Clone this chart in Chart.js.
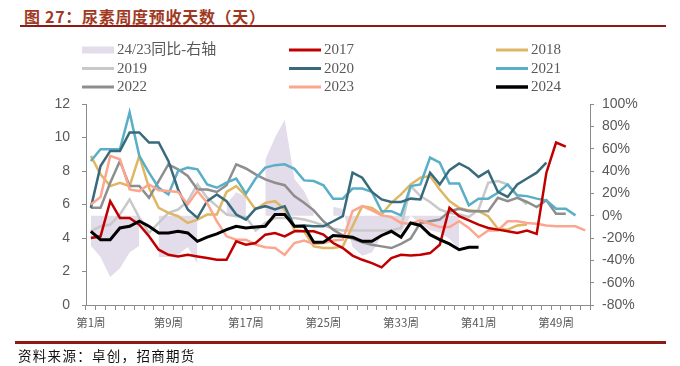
<!DOCTYPE html>
<html><head><meta charset="utf-8">
<script src="https://cdn.jsdelivr.net/npm/chart.js@4.4.1/dist/chart.umd.min.js"></script>
<style>
html,body{margin:0;padding:0;background:#fff;width:680px;height:366px;overflow:hidden;}
#title{position:absolute;left:24px;top:4px;font-family:"Noto Sans CJK SC",sans-serif;font-weight:bold;font-size:16px;letter-spacing:0.7px;color:#A0391F;white-space:nowrap;}
#topline{position:absolute;left:20px;top:25px;width:646px;height:2px;background:#8E1A16;}
#botline{position:absolute;left:15px;top:341px;width:651px;height:3px;background:#8E1A16;}
#source{position:absolute;left:18px;top:345px;font-family:"Noto Sans CJK SC",sans-serif;font-size:13.5px;letter-spacing:1.3px;color:#111;white-space:nowrap;}
#c{position:absolute;left:0;top:0;}
</style></head>
<body>
<div id="title">图 27：尿素周度预收天数（天）</div>
<div id="topline"></div>
<canvas id="c" width="680" height="366"></canvas>
<div id="botline"></div>
<div id="source">资料来源：卓创，招商期货</div>
<script>
const weeks = ["第1周","第2周","第3周","第4周","第5周","第6周","第7周","第8周","第9周","第10周",
"第11周","第12周","第13周","第14周","第15周","第16周","第17周","第18周","第19周","第20周",
"第21周","第22周","第23周","第24周","第25周","第26周","第27周","第28周","第29周","第30周",
"第31周","第32周","第33周","第34周","第35周","第36周","第37周","第38周","第39周","第40周",
"第41周","第42周","第43周","第44周","第45周","第46周","第47周","第48周","第49周","第50周",
"第51周","第52周"];

const yoy2423 = [-27,-37,-55,-47,-33,-27,null,-37,-37,-35,
 -28,-43,null,null,10,21,17,null,50,70,
 86,33,22,4,null,8,6,-28,-36,-33,
 -18,-14,-16,0,-7,-13,-15,-21,-30,null,
 null,null,null,null,null,null,null,null,null,null,null,null];

const s2017 = [4.0,4.1,6.2,5.2,5.2,4.8,4.1,3.3,3.0,2.9,
 3.0,2.9,2.8,2.7,2.7,3.8,3.6,3.7,4.2,4.3,
 4.1,4.4,4.4,4.4,4.2,3.7,3.4,2.95,2.7,2.5,
 2.25,2.8,3.0,2.95,3.0,3.1,3.6,5.8,5.3,5.05,
 4.8,4.6,4.5,4.4,4.3,4.45,4.25,7.9,9.7,9.45,null,null];

const s2018 = [8.9,7.8,7.1,7.3,7.1,8.9,7.0,5.8,5.5,5.3,
 4.9,5.1,5.4,5.4,6.75,7.1,6.5,5.7,6.1,6.2,
 5.7,4.5,4.4,3.5,3.4,3.4,3.5,4.7,5.9,5.8,
 5.4,6.1,6.6,7.2,7.6,7.7,6.9,6.2,5.8,5.65,
 5.6,5.3,4.55,4.5,4.75,4.8,null,null,null,null,null,null];

const s2019 = [4.4,4.7,4.8,5.4,6.3,5.2,4.3,4.9,5.5,5.7,
 6.2,7.2,6.4,5.9,5.4,5.3,5.25,4.45,4.9,5.2,
 5.2,5.2,5.1,4.95,4.75,4.55,4.45,4.45,4.45,4.45,
 4.45,4.45,4.6,7.1,6.5,6.15,5.7,5.5,5.4,5.25,
 5.7,7.3,7.4,7.2,6.5,6.0,null,null,null,null,null,null];

const s2020 = [5.8,8.3,9.2,9.2,10.3,10.3,9.7,9.7,8.6,6.9,
 5.7,5.2,6.2,6.6,6.2,5.4,5.1,5.75,5.9,5.7,
 5.9,4.7,4.75,4.7,4.7,5.0,5.3,7.9,7.6,6.75,
 6.3,6.15,6.15,6.35,6.3,7.9,7.2,8.05,8.45,8.15,
 7.65,8.0,6.75,6.45,7.2,7.55,7.9,8.5,null,null,null,null];

const s2021 = [8.6,9.3,9.3,9.3,11.5,8.9,7.9,7.0,6.6,8.0,
 8.2,8.1,7.2,7.0,7.3,7.55,6.65,7.55,8.2,8.35,
 8.4,8.13,7.44,7.4,7.15,6.35,6.35,6.95,6.95,6.75,
 5.6,5.6,5.35,7.1,7.2,8.8,8.5,7.25,7.25,5.95,
 6.35,6.35,6.7,7.2,6.55,6.5,6.35,6.25,5.75,5.75,5.35,null];

const s2022 = [5.8,5.8,7.3,8.6,7.1,7.1,6.4,7.4,8.4,8.1,
 7.7,6.9,6.9,6.75,7.15,8.4,8.15,7.8,7.5,7.3,
 7.15,6.5,6.1,5.65,5.0,4.5,4.15,3.97,3.75,3.6,
 3.5,3.4,3.65,3.97,4.9,5.0,5.1,5.6,5.75,5.6,
 5.6,5.6,6.4,6.2,6.4,6.15,5.85,6.25,5.45,5.45,null,null];

const s2023 = [6.0,6.45,8.9,8.7,6.9,6.8,7.2,6.85,6.8,6.75,
 6.0,6.8,6.1,5.0,4.1,3.9,3.9,3.6,3.45,3.4,
 3.0,3.7,3.85,3.65,3.7,3.85,3.9,5.6,5.9,5.65,
 5.35,5.25,4.9,4.85,5.05,4.85,4.65,4.65,5.0,4.6,
 4.05,4.45,4.45,5.0,5.0,4.9,4.85,4.75,4.7,4.7,4.7,4.45];

const s2024 = [4.4,3.9,3.9,4.6,4.7,5.0,4.7,4.3,4.3,4.4,
 4.3,3.8,4.05,4.25,4.5,4.7,4.6,4.65,4.7,5.4,
 5.4,4.7,4.7,3.75,3.75,4.15,4.1,4.05,3.8,3.8,
 4.15,4.4,4.05,4.9,4.75,4.2,3.9,3.65,3.3,3.45,
 3.45,null,null,null,null,null,null,null,null,null,null,null];

const leftTicks = [0,2,4,6,8,10,12];
const rightTicks = [-80,-60,-40,-20,0,20,40,60,80,100];

function lineDs(label, data, color, width, order){
  return {type:'line', label, data, borderColor:color, backgroundColor:color,
    borderWidth:width, pointRadius:0, pointHoverRadius:0, tension:0, fill:false,
    spanGaps:false, yAxisID:'y', order};
}

const datasets = [
  {type:'line', label:'24/23同比-右轴', data:yoy2423, yAxisID:'y1', fill:'origin',
   backgroundColor:'#E3DCEA', borderColor:'rgba(0,0,0,0)', borderWidth:1,
   pointRadius:0, tension:0, spanGaps:false, order:20},
  lineDs('2017', s2017, '#C00000', 2.5, 2),
  lineDs('2018', s2018, '#DFB764', 2.5, 7),
  lineDs('2019', s2019, '#C9C9C9', 2.5, 8),
  lineDs('2020', s2020, '#386A7C', 2.5, 4),
  lineDs('2021', s2021, '#5AAFC7', 2.5, 5),
  lineDs('2022', s2022, '#8E8E8E', 2.5, 6),
  lineDs('2023', s2023, '#FDA68F', 2.5, 3),
  lineDs('2024', s2024, '#000000', 3, 1)
];

const gridLegend = {
  id:'gridLegend',
  afterDraw(chart){
    const ctx = chart.ctx;
    const cols = [82, 289, 496], rows = [50, 68.5, 87];
    ctx.save();
    chart.data.datasets.forEach((ds, i) => {
      const x = cols[i % 3], y = rows[Math.floor(i / 3)];
      if (ds.fill) {
        ctx.fillStyle = ds.backgroundColor;
        ctx.fillRect(x, y - 3.5, 32, 7);
      } else {
        ctx.strokeStyle = ds.borderColor;
        ctx.lineWidth = ds.label === '2024' ? 3.5 : 3;
        ctx.beginPath(); ctx.moveTo(x, y); ctx.lineTo(x + 32, y); ctx.stroke();
      }
      ctx.fillStyle = '#595959';
      ctx.font = '15px "Liberation Serif", "Noto Sans CJK SC", serif';
      ctx.textBaseline = 'middle';
      ctx.textAlign = 'left';
      ctx.fillText(ds.label, x + 35, y + 0.5);
    });
    ctx.restore();
  }
};

const axisColor = '#8C8C8C';
const tickFont = {family:'"Liberation Sans", Arial, sans-serif', size:14};

new Chart(document.getElementById('c'), {
  data:{labels:weeks, datasets},
  options:{
    responsive:false, animation:false, devicePixelRatio:1,
    layout:{padding:{top:104, bottom:0, left:0, right:0}},
    plugins:{legend:{display:false}, tooltip:{enabled:false}},
    scales:{
      x:{type:'category', offset:true,
        grid:{display:true, drawOnChartArea:false, drawTicks:true, tickLength:5, color:axisColor, offset:true},
        border:{display:true, color:axisColor, width:1},
        ticks:{autoSkip:false, maxRotation:0, minRotation:0, padding:6, color:'#595959',
          font:{family:'"Noto Sans CJK SC", sans-serif', size:11.5},
          callback:(v,i)=> (i % 8 === 0 ? weeks[i] : '')},
        afterFit:(s)=>{ s.height = 61; }
      },
      y:{position:'left', min:0, max:12,
        afterBuildTicks:(s)=>{ s.ticks = leftTicks.map(v=>({value:v})); },
        grid:{display:true, drawOnChartArea:false, drawTicks:true, tickLength:4, color:axisColor},
        border:{display:true, color:axisColor, width:1},
        ticks:{padding:12, color:'#595959', font:tickFont},
        afterFit:(s)=>{ s.width = 86; }
      },
      y1:{position:'right', min:-80, max:100,
        afterBuildTicks:(s)=>{ s.ticks = rightTicks.map(v=>({value:v})); },
        grid:{display:true, drawOnChartArea:false, drawTicks:true, tickLength:4, color:axisColor},
        border:{display:true, color:axisColor, width:1},
        ticks:{padding:8, color:'#595959', font:tickFont, callback:(v)=> v + '%'},
        afterFit:(s)=>{ s.width = 90; }
      }
    }
  },
  plugins:[gridLegend]
});
</script>
</body></html>
